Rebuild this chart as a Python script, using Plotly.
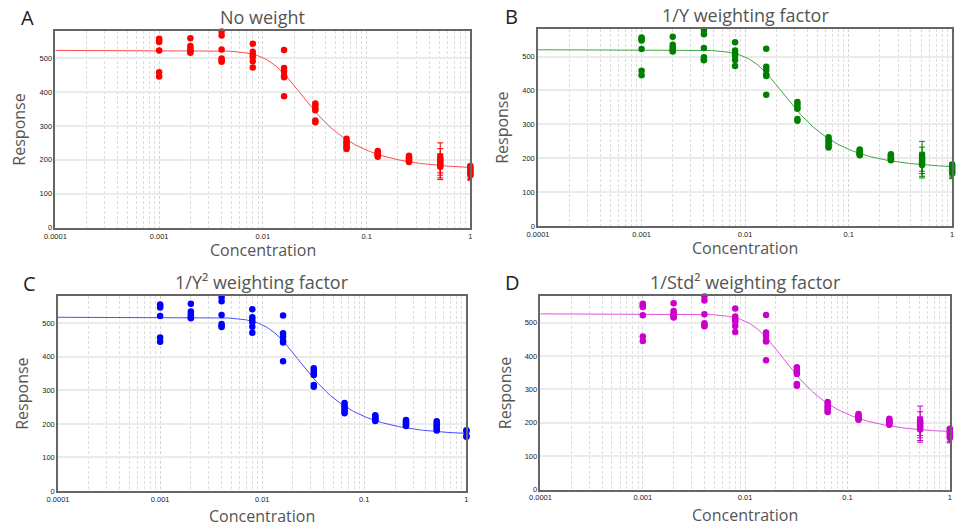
import numpy as np
import plotly.graph_objects as go

# Concentrations (two-fold dilution series) and replicate responses
conc = [0.001, 0.002, 0.004, 0.008, 0.016, 0.032, 0.064, 0.128, 0.256, 0.512, 1.0]

resp_0001 = [556, 552, 547, 522, 458, 445]
resp_0002 = [558, 535, 528, 522, 518, 515]
resp_0004 = [578, 566, 525, 498, 492, 489]
resp_0008 = [542, 518, 510, 503, 490, 472]
resp_0016 = [523, 470, 460, 447, 443, 387]
resp_0032 = [366, 359, 351, 346, 316, 311]
resp_0064 = [262, 255, 249, 243, 237, 232]
resp_0128 = [226, 222, 218, 215, 212, 209]
resp_0256 = [212, 208, 204, 200, 197, 194]
resp_0512 = [208, 202, 196, 190, 185, 180]
resp_1 = [182, 176, 170, 165, 160, 155]
resp_1_c = [181, 179, 164, 162]

# Standard deviations shown as error bars at the two highest concentrations
std_0512 = [10, 14, 54, 43, 30, 18]
std_1 = [4, 8, 12, 20, 18, 15]

# Five-parameter logistic fits: top, bottom, EC50, Hill slope, asymmetry
panel_titles = ["No weight", "1/Y weighting factor", "1/Y² weighting factor", "1/Std² weighting factor"]
panel_letters = ["A", "B", "C", "D"]
fit_top = [522, 520, 518, 526]
fit_bottom = [172, 170, 166, 168]
fit_ec50 = [0.0159, 0.0159, 0.0157, 0.0159]
fit_hill = [3.2, 3.2, 3.2, 3.2]
fit_asym = [0.31, 0.31, 0.31, 0.31]

marker_colors = ["#ff0000", "#008000", "#0000ff", "#cc00cc"]
line_colors = ["#ff4d4d", "#3fa83f", "#4d4dff", "#dd55dd"]
show_errors = [True, True, False, True]

# Plot rectangles in paper coordinates: (x0, x1, y0, y1)
domains = [
    ([0.0467, 0.4836], [0.5652, 0.9414]),
    ([0.5548, 0.9907], [0.5684, 0.9439]),
    ([0.0495, 0.4794], [0.0630, 0.4342]),
    ([0.5573, 0.9883], [0.0656, 0.4354]),
]
xlabel_shift = [-22, -22, -25, -25]
letter_shift = [-28, -27, -29, -28]


def logistic5(x, top, bottom, ec50, hill, asym):
    return bottom + (top - bottom) / (1.0 + (x / ec50) ** hill) ** asym


columns = [resp_0001, resp_0002, resp_0004, resp_0008, resp_0016, resp_0032,
           resp_0064, resp_0128, resp_0256, resp_0512, resp_1]

fig = go.Figure()
x_curve = np.logspace(-4, 0, 400)

for i in range(4):
    xa = "x" if i == 0 else f"x{i + 1}"
    ya = "y" if i == 0 else f"y{i + 1}"
    cols = list(columns)
    if i == 2:
        cols[-1] = resp_1_c
    # plain replicate points
    px, py = [], []
    for c, vals in zip(conc[:-2], cols[:-2]):
        px += [c] * len(vals)
        py += vals
    y_curve = logistic5(x_curve, fit_top[i], fit_bottom[i], fit_ec50[i], fit_hill[i], fit_asym[i])
    fig.add_trace(go.Scatter(x=x_curve, y=y_curve, mode="lines", xaxis=xa, yaxis=ya,
                             line=dict(color=line_colors[i], width=1), hoverinfo="skip",
                             showlegend=False))
    fig.add_trace(go.Scatter(x=px, y=py, mode="markers", xaxis=xa, yaxis=ya, cliponaxis=False,
                             marker=dict(color=marker_colors[i], size=6.5), showlegend=False))
    # last two concentrations, with error bars where the fit uses them
    for c, vals, sd in zip(conc[-2:], cols[-2:], [std_0512, std_1]):
        err = None
        if show_errors[i]:
            err = dict(type="data", array=sd, visible=True, color=marker_colors[i],
                       thickness=1, width=3)
        fig.add_trace(go.Scatter(x=[c] * len(vals), y=vals, mode="markers", xaxis=xa, yaxis=ya,
                                 cliponaxis=False, error_y=err,
                                 marker=dict(color=marker_colors[i], size=6.5), showlegend=False))

axis_common = dict(showline=True, linecolor="#666666", linewidth=1.5, mirror=True,
                   ticks="", zeroline=False)
tick_font = dict(family="Liberation Sans, Arial", size=7.5, color="#222222")
label_family = "Open Sans, Lato"
title_font = dict(family=label_family, size=18, color="#555555")

annotations = []
for i in range(4):
    sx = "" if i == 0 else str(i + 1)
    xd, yd = domains[i]
    fig.layout[f"xaxis{sx}"] = dict(
        axis_common, type="log", domain=xd, range=[-4, 0], anchor=f"y{sx}",
        tickvals=[0.0001, 0.001, 0.01, 0.1, 1], ticktext=["0.0001", "0.001", "0.01", "0.1", "1"],
        tickfont=tick_font, showgrid=True, gridcolor="#d4d4d4", gridwidth=1, griddash="3px,2px",
        minor=dict(dtick="D1", showgrid=True, gridcolor="#dddddd", gridwidth=1, griddash="3px,2px"),
    )
    fig.layout[f"yaxis{sx}"] = dict(
        axis_common, domain=yd, range=[0, 580], anchor=f"x{sx}",
        tickvals=[0, 100, 200, 300, 400, 500], tickfont=tick_font,
        showgrid=True, gridcolor="#ebebeb", gridwidth=2,
    )
    annotations += [
        dict(text=panel_titles[i], xref=f"x{sx} domain", yref=f"y{sx} domain", x=0.5, y=1,
             yshift=14, showarrow=False, xanchor="center", yanchor="middle", font=title_font),
        dict(text=panel_letters[i], xref=f"x{sx} domain", yref=f"y{sx} domain", x=0, y=1,
             xshift=letter_shift[i], yshift=13, showarrow=False, xanchor="center",
             yanchor="middle", font=dict(family=label_family, size=20, color="#222222")),
        dict(text="Concentration", xref=f"x{sx} domain", yref=f"y{sx} domain", x=0.5, y=0,
             yshift=xlabel_shift[i], showarrow=False, xanchor="center", yanchor="middle",
             font=dict(family=label_family, size=16, color="#555555")),
        dict(text="Response", xref=f"x{sx} domain", yref=f"y{sx} domain", x=0, y=0.5,
             xshift=-36, textangle=-90, showarrow=False, xanchor="center", yanchor="middle",
             font=dict(family=label_family, size=16, color="#555555")),
    ]

fig.update_layout(width=963, height=529, margin=dict(l=0, r=0, t=0, b=0),
                  paper_bgcolor="white", plot_bgcolor="white", annotations=annotations)

fig.write_html("out.html")
